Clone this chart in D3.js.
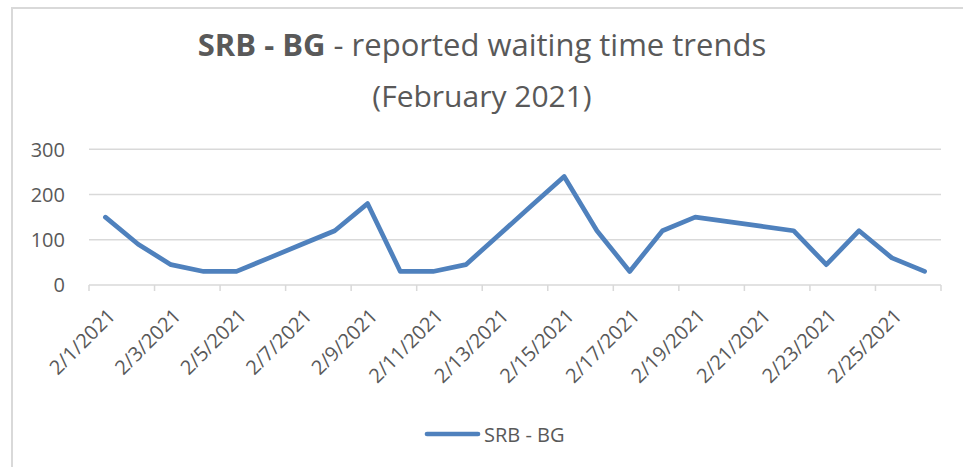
<!DOCTYPE html>
<html>
<head>
<meta charset="utf-8">
<script src="https://cdn.jsdelivr.net/npm/d3@7"></script>
<style>
  body { margin: 0; background: #fff; }
  text { font-family: "Open Sans", "Noto Sans", sans-serif; fill: #595959; }
</style>
</head>
<body>
<script>
//#### DATA ####
var dates = ["2/1/2021","2/2/2021","2/3/2021","2/4/2021","2/5/2021","2/6/2021","2/7/2021",
             "2/8/2021","2/9/2021","2/10/2021","2/11/2021","2/12/2021","2/13/2021","2/14/2021",
             "2/15/2021","2/16/2021","2/17/2021","2/18/2021","2/19/2021","2/20/2021","2/21/2021",
             "2/22/2021","2/23/2021","2/24/2021","2/25/2021","2/26/2021"];
var waiting = [150, 90, 45, 30, 30, 60, 90, 120, 180, 30, 30, 45, 110, 175,
               240, 120, 30, 120, 150, 140, 130, 120, 45, 120, 60, 30];
var yTicks = [0, 100, 200, 300];
var seriesName = "SRB - BG";

var data = dates.map(function(d, i) { return {date: d, value: waiting[i]}; });

// #### layout ####
var width_outer = 963;
var height_outer = 467;
var plot = {left: 89, right: 941, top: 149.3, bottom: 285};

var svg = d3.select("body").append("svg")
  .attr("width", width_outer)
  .attr("height", height_outer);

// chart area border (only top and left visible in frame)
svg.append("rect")
  .attr("x", 12).attr("y", 8)
  .attr("width", 1000).attr("height", 500)
  .style("fill", "#fff")
  .style("stroke", "#d9d9d9")
  .style("stroke-width", 2);

// title
var title = svg.append("text")
  .attr("x", 482)
  .attr("y", 56)
  .attr("text-anchor", "middle")
  .style("font-size", "31px");
title.append("tspan").style("font-weight", "bold").text(seriesName);
title.append("tspan").text(" - reported waiting time trends");

svg.append("text")
  .attr("x", 482)
  .attr("y", 107)
  .attr("text-anchor", "middle")
  .style("font-size", "30px")
  .text("(February 2021)");

// scales
var x = d3.scaleBand()
  .domain(dates)
  .range([plot.left, plot.right])
  .padding(0);

var y = d3.scaleLinear()
  .domain([0, 300])
  .range([plot.bottom, plot.top]);

// gridlines
svg.append("g")
  .selectAll("line")
  .data(yTicks.filter(function(t) { return t > 0; }))
  .enter().append("line")
  .attr("x1", plot.left).attr("x2", plot.right)
  .attr("y1", function(d) { return y(d); })
  .attr("y2", function(d) { return y(d); })
  .style("stroke", "#d9d9d9")
  .style("stroke-width", 1.5);

// y axis labels
svg.append("g")
  .selectAll("text")
  .data(yTicks)
  .enter().append("text")
  .attr("x", 65)
  .attr("y", function(d) { return y(d); })
  .attr("dy", "0.36em")
  .attr("text-anchor", "end")
  .style("font-size", "20px")
  .text(function(d) { return d; });

// x axis line + ticks every 2 categories
svg.append("line")
  .attr("x1", plot.left).attr("x2", plot.right)
  .attr("y1", plot.bottom).attr("y2", plot.bottom)
  .style("stroke", "#d9d9d9")
  .style("stroke-width", 1.5);

var tickPos = dates.filter(function(d, i) { return i % 2 === 0; })
  .map(function(d) { return x(d); })
  .concat([plot.right]);

svg.append("g")
  .selectAll("line")
  .data(tickPos)
  .enter().append("line")
  .attr("x1", function(d) { return d; })
  .attr("x2", function(d) { return d; })
  .attr("y1", plot.bottom).attr("y2", plot.bottom + 6)
  .style("stroke", "#d9d9d9")
  .style("stroke-width", 1.5);

// x labels, rotated
svg.append("g")
  .selectAll("text")
  .data(dates.filter(function(d, i) { return i % 2 === 0; }))
  .enter().append("text")
  .attr("transform", function(d) {
    return "translate(" + (x(d) + x.bandwidth() / 2 + 1) + ",307) rotate(-45)";
  })
  .attr("dy", "0.72em")
  .attr("text-anchor", "end")
  .style("font-size", "20px")
  .text(function(d) { return d; });

// line
var line = d3.line()
  .x(function(d) { return x(d.date) + x.bandwidth() / 2; })
  .y(function(d) { return y(d.value); });

svg.append("path")
  .datum(data)
  .attr("d", line)
  .style("fill", "none")
  .style("stroke", "#4f81bd")
  .style("stroke-width", 4.7)
  .style("stroke-linejoin", "round")
  .style("stroke-linecap", "round");

// legend
svg.append("line")
  .attr("x1", 427).attr("x2", 478)
  .attr("y1", 434).attr("y2", 434)
  .style("stroke", "#4f81bd")
  .style("stroke-width", 4.7)
  .style("stroke-linecap", "round");

svg.append("text")
  .attr("x", 484)
  .attr("y", 441.5)
  .style("font-size", "20px")
  .text(seriesName);
</script>
</body>
</html>
